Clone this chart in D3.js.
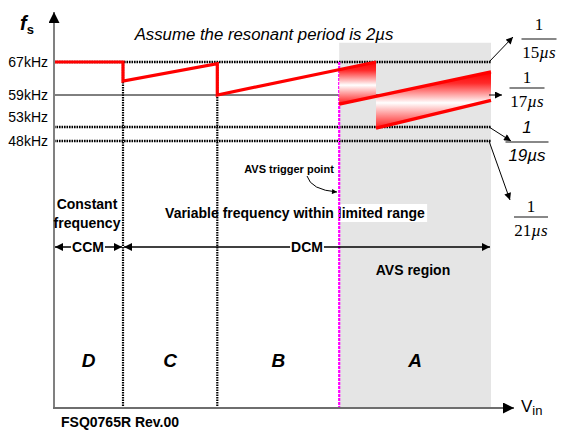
<!DOCTYPE html>
<html>
<head>
<meta charset="utf-8">
<script src="https://cdn.jsdelivr.net/npm/d3@7"></script>
<style>
body { margin: 0; background: #fff; }
text { font-family: "Liberation Sans", Arial, sans-serif; }
.serif { font-family: "Liberation Serif", "Times New Roman", serif; }
</style>
</head>
<body>
<svg id="chart" width="565" height="431"></svg>
<script>
// frequency levels (kHz) and their labels
var freqLevels = [67, 59, 53, 48];
var freqLabels = ["67kHz", "59kHz", "53kHz", "48kHz"];
var freqDotted = [true, false, true, true];

// Vin regions (arbitrary Vin units)
var regionEdges = [0, 15, 35.5, 62, 95];
var regionNames = ["D", "C", "B", "A"];
var avsStart = 62;

// switching frequency trace (Vin, kHz)
var sawtooth = [[0, 67], [15, 67], [15, 62.4], [35.5, 66.6], [35.5, 59], [70, 67]];
var avsUpper = [[62, 57.3], [95, 64.6]];
var avsLower = [[70, 52.6], [95, 58]];
var avsBands = [
    [[62, 65.2], [70, 67], [70, 58.8], [62, 57.3]],
    [[70, 58.8], [95, 64.6], [95, 58], [70, 52.6]]
];

// periods shown as 1/T at the right
var periods = ["15", "17", "19", "21"];

var svg = d3.select("#chart");

var x = d3.scaleLinear().domain([0, 100]).range([54, 514]);
var y = d3.scaleLinear()
    .domain([20, 48, 53, 59, 67, 80])
    .range([408, 141, 127, 95, 62, 12]);

var defs = svg.append("defs");
function marker(id, w, h) {
    defs.append("marker")
        .attr("id", id)
        .attr("viewBox", "0 0 10 10")
        .attr("refX", 10).attr("refY", 5)
        .attr("markerUnits", "userSpaceOnUse")
        .attr("markerWidth", w).attr("markerHeight", h)
        .attr("orient", "auto-start-reverse")
        .append("path")
        .attr("d", "M0,0L10,5L0,10z")
        .attr("fill", "#000");
}
marker("head", 9, 8);
marker("small", 8, 7);
marker("tiny", 6, 5);
marker("axis", 14, 11);

var grad = defs.append("linearGradient")
    .attr("id", "avsGrad")
    .attr("x1", 0).attr("y1", 0).attr("x2", 0).attr("y2", 1);
grad.append("stop").attr("offset", "0%").attr("stop-color", "#ff0000");
grad.append("stop").attr("offset", "20%").attr("stop-color", "#ff2a2a");
grad.append("stop").attr("offset", "55%").attr("stop-color", "#ffffff");
grad.append("stop").attr("offset", "100%").attr("stop-color", "#ff1a1a");

// AVS region background
svg.append("rect")
    .attr("x", x(avsStart))
    .attr("y", y(72))
    .attr("width", x(regionEdges[4]) - x(avsStart))
    .attr("height", y(20) - y(72))
    .attr("fill", "#e5e5e5");

// white box behind the "variable frequency" caption
var varText = svg.append("text")
    .attr("x", 295).attr("y", 218)
    .attr("text-anchor", "middle")
    .attr("font-weight", "bold")
    .attr("font-size", 14)
    .text("Variable frequency within limited range");
var vb = varText.node().getBBox();
svg.insert("rect", "text")
    .attr("x", vb.x - 2).attr("y", vb.y - 1)
    .attr("width", vb.width + 4).attr("height", vb.height + 2)
    .attr("fill", "#fff");

// frequency level lines
svg.selectAll("line.level")
    .data(freqLevels)
    .enter().append("line")
    .attr("class", "level")
    .attr("x1", x(0)).attr("x2", x(regionEdges[4]))
    .attr("y1", function(d) { return y(d); })
    .attr("y2", function(d) { return y(d); })
    .attr("stroke", "#000")
    .attr("stroke-width", function(d, i) { return freqDotted[i] ? 2.4 : 1; })
    .attr("stroke-dasharray", function(d, i) { return freqDotted[i] ? "1.6,0.9" : null; });

// region boundaries
svg.selectAll("line.edge")
    .data(regionEdges.slice(1, 4))
    .enter().append("line")
    .attr("class", "edge")
    .attr("x1", function(d) { return x(d); })
    .attr("x2", function(d) { return x(d); })
    .attr("y1", y(67)).attr("y2", y(20))
    .attr("stroke", function(d) { return d === avsStart ? "#ff00ff" : "#000"; })
    .attr("stroke-width", 2.2)
    .attr("stroke-dasharray", function(d) { return d === avsStart ? "3,1" : "1.6,0.9"; });

// AVS gradient bands
svg.selectAll("path.band")
    .data(avsBands)
    .enter().append("path")
    .attr("class", "band")
    .attr("d", function(d) {
        return "M" + d.map(function(p) { return x(p[0]) + "," + y(p[1]); }).join("L") + "Z";
    })
    .attr("fill", "url(#avsGrad)");

// switching frequency trace
var line = d3.line()
    .x(function(d) { return x(d[0]); })
    .y(function(d) { return y(d[1]); });
svg.selectAll("path.trace")
    .data([sawtooth, avsUpper, avsLower])
    .enter().append("path")
    .attr("class", "trace")
    .attr("d", line)
    .attr("fill", "none")
    .attr("stroke", "#ff0000")
    .attr("stroke-width", 3.2);

// axes
svg.append("line")
    .attr("x1", x(0)).attr("x2", x(0))
    .attr("y1", y(20)).attr("y2", y(80))
    .attr("stroke", "#808080").attr("stroke-width", 2)
    .attr("marker-end", "url(#axis)");
svg.append("line")
    .attr("x1", x(0) - 1).attr("x2", x(100))
    .attr("y1", y(20)).attr("y2", y(20))
    .attr("stroke", "#6e6e6e").attr("stroke-width", 2)
    .attr("marker-end", "url(#axis)");

svg.append("text")
    .attr("x", 20).attr("y", 30)
    .attr("font-size", 20).attr("font-weight", "bold").attr("font-style", "italic")
    .text("f")
    .append("tspan").attr("font-size", 13).attr("dy", 4).attr("font-style", "normal").text("s");

var vin = svg.append("text")
    .attr("x", 521).attr("y", 412)
    .attr("font-size", 17)
    .text("V");
vin.append("tspan").attr("font-size", 13).attr("dy", 3).text("in");

// tick labels
svg.selectAll("text.tick")
    .data(freqLevels)
    .enter().append("text")
    .attr("class", "tick")
    .attr("x", 48)
    .attr("y", function(d, i) { return y(d) + (i === 2 ? -5 : 5); })
    .attr("text-anchor", "end")
    .attr("font-size", 14)
    .text(function(d, i) { return freqLabels[i]; });

// title
svg.append("text")
    .attr("x", 264).attr("y", 40)
    .attr("text-anchor", "middle")
    .attr("font-size", 16.8).attr("font-style", "italic")
    .text("Assume the resonant period is 2\u00b5s");

// region letters
svg.selectAll("text.region")
    .data(regionNames)
    .enter().append("text")
    .attr("class", "region")
    .attr("x", function(d, i) { return (x(regionEdges[i]) + x(regionEdges[i + 1])) / 2; })
    .attr("y", 367)
    .attr("text-anchor", "middle")
    .attr("font-size", 19).attr("font-weight", "bold").attr("font-style", "italic")
    .text(function(d) { return d; });

// CCM / DCM spans
var spans = [
    { from: regionEdges[0], to: regionEdges[1], label: "CCM", lx: 88 },
    { from: regionEdges[1], to: regionEdges[4], label: "DCM", lx: 307 }
];
spans.forEach(function(s) {
    svg.append("line")
        .attr("x1", x(s.from) + 1).attr("x2", x(s.to) - 1)
        .attr("y1", 247).attr("y2", 247)
        .attr("stroke", "#000").attr("stroke-width", 1.5)
        .attr("marker-start", "url(#head)")
        .attr("marker-end", "url(#head)");
    var t = svg.append("text")
        .attr("x", s.lx).attr("y", 252)
        .attr("text-anchor", "middle")
        .attr("font-size", 14).attr("font-weight", "bold")
        .text(s.label);
    var b = t.node().getBBox();
    svg.insert("rect", function() { return t.node(); })
        .attr("x", b.x - 1).attr("y", b.y + 2)
        .attr("width", b.width + 2).attr("height", b.height - 4)
        .attr("fill", "#fff");
});

svg.append("text")
    .attr("x", 87).attr("y", 209)
    .attr("text-anchor", "middle")
    .attr("font-size", 14).attr("font-weight", "bold")
    .text("Constant");
svg.append("text")
    .attr("x", 87).attr("y", 228)
    .attr("text-anchor", "middle")
    .attr("font-size", 14).attr("font-weight", "bold")
    .text("frequency");

svg.append("text")
    .attr("x", 413).attr("y", 275)
    .attr("text-anchor", "middle")
    .attr("font-size", 14).attr("font-weight", "bold")
    .text("AVS region");

svg.append("text")
    .attr("x", 289).attr("y", 173)
    .attr("text-anchor", "middle")
    .attr("font-size", 11).attr("font-weight", "bold")
    .text("AVS trigger point");
svg.append("path")
    .attr("d", "M307,176Q311,190 337,192")
    .attr("fill", "none").attr("stroke", "#000").attr("stroke-width", 1)
    .attr("marker-end", "url(#tiny)");

svg.append("text")
    .attr("x", 61).attr("y", 427)
    .attr("font-size", 14).attr("font-weight", "bold")
    .text("FSQ0765R Rev.00");

// 1/T annotations
var notes = [
    { x0: 95, ax: 513, ay: 37, cx: 539, top: 30, bar: 39, w: 35, sans: false },
    { x0: 95, ax: 502, ay: 95, cx: 527, top: 83, bar: 88, w: 35, sans: false },
    { x0: 95, ax: 511, ay: 141, cx: 527, top: 133, bar: 142, w: 43, sans: true },
    { x0: 95, ax: 510, ay: 200, cx: 531, top: 212, bar: 217, w: 34, sans: false }
];
notes.forEach(function(n, i) {
    var lvl = freqLevels[i];
    svg.append("line")
        .attr("x1", x(n.x0) - 2).attr("y1", y(lvl))
        .attr("x2", n.ax).attr("y2", n.ay)
        .attr("stroke", "#000").attr("stroke-width", 1)
        .attr("marker-end", "url(#small)");
    var fam = n.sans ? null : "serif";
    svg.append("text")
        .attr("class", fam)
        .attr("x", n.cx).attr("y", n.top)
        .attr("text-anchor", "middle")
        .attr("font-size", 17)
        .attr("font-style", n.sans ? "italic" : null)
        .text("1");
    svg.append("line")
        .attr("x1", n.cx - n.w / 2).attr("x2", n.cx + n.w / 2)
        .attr("y1", n.bar).attr("y2", n.bar)
        .attr("stroke", "#606060").attr("stroke-width", 1.5);
    var den = svg.append("text")
        .attr("class", fam)
        .attr("x", n.cx).attr("y", n.bar + 19)
        .attr("text-anchor", "middle")
        .attr("font-size", 17)
        .attr("font-style", n.sans ? "italic" : null);
    den.append("tspan").text(periods[i]);
    den.append("tspan").attr("font-style", "italic").text("\u00b5s");
});
</script>
</body>
</html>
